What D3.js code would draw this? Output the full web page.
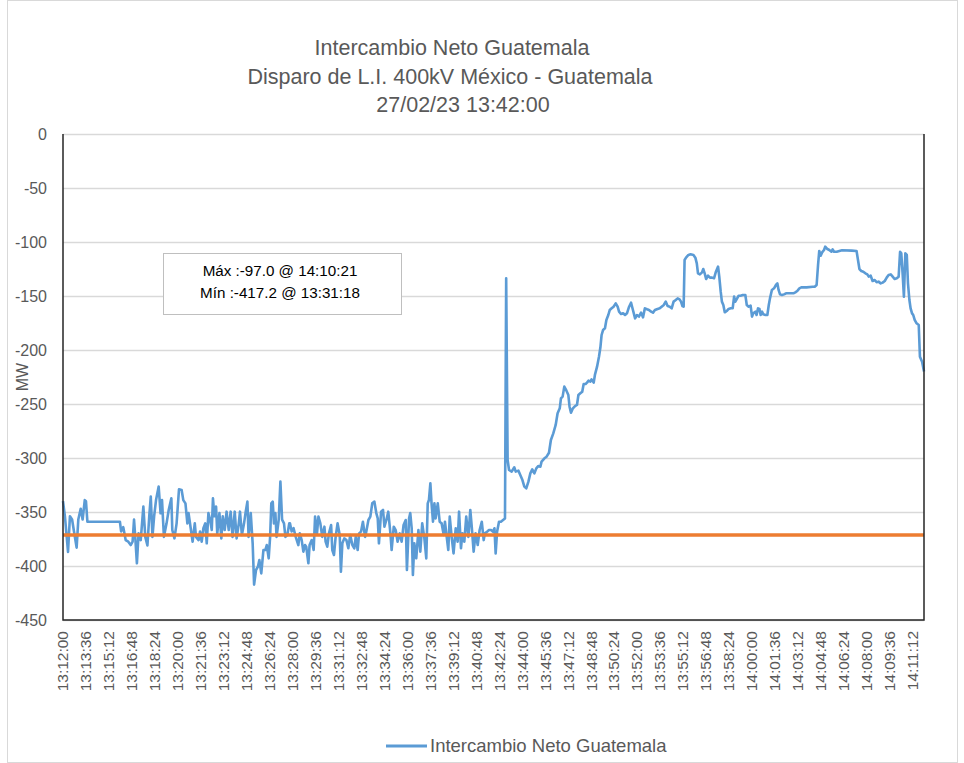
<!DOCTYPE html>
<style>
    body { margin: 0; background: #fff; }
    text { font-family: "Liberation Sans", Arial, sans-serif; }
</style>
<body>

<script src="https://d3js.org/d3.v7.min.js"></script>
<script>
    var inicio = "13:12:00";
    var segundos = [0, 8, 21, 29, 38, 46, 57, 64, 74, 82, 91, 96, 102, 238, 243, 252, 262, 273, 283, 291, 297, 302, 309, 316, 325, 336, 344, 353, 361, 367, 374, 381, 389, 400, 408, 414, 422, 433, 442, 453, 457, 466, 475, 485, 496, 503, 512, 520, 525, 534, 542, 551, 556, 567, 573, 580, 587, 595, 601, 608, 615, 622, 627, 633, 640, 645, 654, 662, 668, 676, 684, 693, 701, 709, 718, 726, 735, 740, 748, 757, 764, 771, 776, 785, 793, 799, 807, 815, 821, 829, 838, 846, 852, 860, 866, 871, 877, 882, 888, 893, 902, 909, 916, 924, 930, 938, 946,
        949, 956, 964, 973, 984, 990, 998, 1005, 1012, 1017, 1026, 1031, 1040, 1048, 1054, 1062, 1068, 1076, 1084, 1093, 1098, 1105, 1112, 1121, 1126, 1133, 1140, 1148, 1157, 1162, 1168, 1176, 1185, 1193, 1201, 1210, 1218, 1224, 1232, 1238, 1246, 1254, 1263, 1268, 1277, 1285, 1293, 1302, 1310, 1316, 1321, 1330, 1338, 1344, 1352, 1360, 1369, 1374, 1383, 1391, 1399, 1408, 1416, 1424, 1433, 1438, 1447, 1452, 1458, 1463, 1469, 1477, 1486, 1494, 1502, 1511, 1519, 1525, 1530, 1536, 1541, 1547, 1553, 1558, 1567, 1575, 1583, 1592, 1597, 1606, 1611, 1617, 1625, 1633, 1642, 1650, 1656, 1664, 1670, 1678, 1686, 1695, 1703, 1709, 1717, 1725, 1734, 1742, 1751, 1759, 1764, 1773, 1781, 1790, 1798, 1804, 1809, 1815, 1823, 1831, 1840, 1848,
        1853, 1859, 1865, 1876, 1887, 1893, 1904, 1912, 1921, 1929, 1937, 1946, 1954, 1962, 1971, 1979, 1987, 1996, 2001, 2013, 2022, 2032, 2040, 2050, 2060, 2068, 2077, 2082, 2089, 2096, 2105, 2113, 2118, 2124, 2132, 2141, 2149, 2155, 2163, 2171, 2177, 2185, 2191, 2197, 2205, 2210, 2219, 2224, 2233, 2241, 2247, 2252, 2258, 2266, 2272, 2280, 2286, 2294, 2302, 2311, 2319, 2325, 2333, 2342, 2350, 2358, 2367, 2375, 2383, 2392, 2400, 2408, 2417, 2425, 2433, 2442, 2450, 2459, 2467, 2475, 2486, 2495, 2503, 2512, 2520, 2528, 2537, 2545, 2553, 2562, 2570, 2578, 2584, 2590, 2595,
        2599, 2605, 2615, 2624, 2636, 2644, 2650, 2655, 2663, 2672, 2677, 2683, 2689, 2697, 2705, 2714, 2722, 2730, 2739, 2744, 2750, 2755, 2761, 2767, 2775, 2783, 2792, 2800, 2806, 2811, 2817, 2825, 2833, 2842, 2853, 2859, 2867, 2875, 2881, 2886, 2895, 2900, 2906, 2912, 2917, 2923, 2928, 2937, 2945, 2951, 2956, 2964, 2973, 2981, 2987, 2992, 2998, 3006, 3015, 3023, 3034, 3045, 3054, 3062, 3070, 3079, 3087, 3109, 3135, 3143, 3151, 3157, 3162, 3168, 3174, 3182, 3187, 3196, 3204, 3213, 3218, 3224, 3235, 3257, 3298, 3318, 3324, 3330, 3338, 3346, 3355, 3363, 3369, 3377, 3385, 3394, 3402, 3410, 3419, 3427, 3436, 3444, 3452, 3461, 3469, 3477, 3486, 3494, 3500, 3505, 3511, 3516, 3522, 3528, 3533, 3539, 3544, 3550, 3555, 3561, 3569, 3578, 3583, 3592, 3600];

    var intercambio = [-340, -354, -387, -354, -357, -368, -383, -357, -347, -357, -339, -340, -359, -359, -368, -364, -376, -377.5, -380.6, -377.5, -357, -372.8, -397.5, -369.8, -376, -345, -373, -381, -352.8, -335.8, -373, -354, -339, -326.5, -351.2, -339, -373, -360.5, -348.1, -337.3, -366.7, -374.4, -360.5, -329, -329.6, -339, -342, -360.5, -351, -365, -377.5, -360.5, -373, -376, -368, -377.5, -365, -360.5, -379, -351, -357, -366.7, -337.3, -354, -345, -369.8, -351, -374.4, -354, -366.7, -349.7, -366.7, -349.7, -373, -349.7, -374.4, -360.5, -349.7, -371.3, -360.5, -349.7, -340.4, -373, -351, -379, -417.2, -403.7, -400.6, -394.4, -406.8, -385.2, -385.2, -380.6, -392.9, -373, -342, -340.4, -360.5, -351, -373, -357, -321.9, -357, -360.5, -373, -371.3, -360.5,
        -360.5, -368, -365, -373, -380.6, -369.8, -376, -386.7, -380.6, -382.1, -397.5, -380.6, -376, -385.2, -354.3, -369.8, -354.3, -360.5, -373, -363.6, -377.5, -382.1, -369.8, -362, -385.2, -389.8, -373, -360.5, -371.3, -405.2, -379, -374.4, -376, -383.6, -371.3, -380.6, -383.6, -373, -385.2, -369.8, -368.2, -359, -373, -368.2, -357.4, -354.3, -342, -340.4, -351, -355.9, -379, -349.7, -348.1, -363.6, -357.4, -349.7, -369.8, -385.2, -363.6, -366.7, -377.5, -369.8, -377.5, -362, -357.4, -403.7, -355.9, -351, -365.1, -408.3, -379, -392.9, -366.7, -386.7, -360.5, -374.4, -392.9, -342, -338.9, -323.5, -342, -359, -342, -355.9, -342, -359, -360.5, -371.3, -359, -376, -385.2, -354.3, -373, -388.3, -365.1, -377.5, -349.7, -383.6, -369.8, -377.5, -354.3, -373, -348.1, -363.6, -386.7, -369.8, -380.6, -366.7, -359, -376, -369.8, -368.2, -366.7, -366.7, -368.2, -365.1, -388.3, -368.2, -359, -359, -357.4, -356,
        -133.6, -301.9, -311.1, -312.6, -308.6, -312.6, -311.7, -315.7, -320.4, -326.5, -328.1, -321.9, -314.2, -310.5, -314.2, -309.6, -307.4, -308, -303.4, -300.3, -298.8, -295.1, -283.3, -277.2, -269.4, -258.6, -254, -244.8, -243.2, -233.9, -237.7, -241.7, -252.5, -258, -254, -251.9, -250.9, -241.7, -240.1, -238.6, -231.5, -231.5, -230.2, -228.4, -229.3, -227.2, -230.2, -223.1, -215.4, -206.2, -197.5, -186.1, -181.5, -179.9, -172.2, -167.6, -163, -161.4, -159.9, -156.8, -159.9, -164.5, -166.7, -166, -167.6, -166, -159.9, -156.2, -163, -170.7, -167.6, -169.1, -165.4, -169.8, -161.4, -162.3, -163, -164.5, -165.4, -163, -162, -161.4, -159.9, -158.3, -155.2, -159.3, -159.9, -161.4, -155.2, -153.7, -152.2, -153.1, -155.2, -159.3, -159.9,
        -116.7, -114.5, -112, -111.4, -112, -114.5, -119.8, -129, -130, -128.1, -125, -129, -134.3, -131.2, -133, -133, -133.6, -127.5, -122.8, -132.1, -146, -155.2, -158.3, -165.1, -163.9, -162, -161.4, -161.4, -150.6, -155.2, -152.8, -149.7, -149.7, -149.1, -149.1, -158.3, -159.9, -158.9, -169.1, -166.1, -164.5, -167.6, -161.4, -162, -167.6, -164.5, -167, -167.6, -167.6, -158.3, -152.2, -144.4, -142.9, -139.8, -138.3, -144.4, -148.5, -149.1, -148.5, -147.5, -147.5, -147.5, -147.5, -146.6, -145.4, -142.9, -142, -142, -141.4, -141.4, -139.8, -121.3, -108.3, -112.7, -109.6, -107.4, -104.3, -106.5, -107.4, -109, -106.8, -109, -109, -107.7, -108, -108.3, -116.7, -125, -126.9, -127.5, -129, -130, -132.1, -131.2, -136.1, -135.2, -137.3, -136.7, -138.3, -137.6, -136.1, -133, -130.6, -130, -132.1, -134.3, -133.6, -132.1, -109, -110.5, -130.6, -150.6, -110.5, -112, -138.3, -153.7, -161.4, -166.1, -167.6, -172.2, -175.3, -176.8, -206.2, -210.8, -220];

    var referencia = -371.3;   // linea naranja
    var fin = "14:12:00";

    var etiquetasX = ["13:12:00", "13:13:36", "13:15:12", "13:16:48", "13:18:24", "13:20:00", "13:21:36", "13:23:12", "13:24:48", "13:26:24", "13:28:00", "13:29:36", "13:31:12", "13:32:48", "13:34:24", "13:36:00", "13:37:36", "13:39:12", "13:40:48", "13:42:24", "13:44:00", "13:45:36", "13:47:12", "13:48:48", "13:50:24", "13:52:00", "13:53:36", "13:55:12", "13:56:48", "13:58:24", "14:00:00", "14:01:36", "14:03:12", "14:04:48", "14:06:24", "14:08:00", "14:09:36", "14:11:12"];
    var ticksY = [0, -50, -100, -150, -200, -250, -300, -350, -400, -450];

    var titulo = ["Intercambio Neto Guatemala", "Disparo de L.I. 400kV México - Guatemala", "27/02/23 13:42:00"];
    var nota = ["Máx :-97.0 @ 14:10:21", "Mín :-417.2 @ 13:31:18"];

    var width = 964,
        height = 763;

    var svg = d3.select("body").append("svg")
        .attr("width", width)
        .attr("height", height);

    var margin = {top: 134, right: 40, bottom: 143, left: 63};
    var w = width - margin.left - margin.right,
        h = height - margin.top - margin.bottom;

    var parse = d3.timeParse("%H:%M:%S");
    var t0 = parse(inicio);

    var data = segundos.map(function(s, i) {
        return {t: d3.timeSecond.offset(t0, s), v: intercambio[i]};
    });

    var x = d3.scaleTime()
        .domain([t0, parse(fin)])
        .range([0, w]);

    var y = d3.scaleLinear()
        .domain([-450, 0])
        .range([h, 0]);

    // marco exterior
    svg.append("rect")
        .attr("x", 7.5).attr("y", 0.5)
        .attr("width", 950).attr("height", 762)
        .attr("fill", "none")
        .attr("stroke", "#d9d9d9");

    // titulo
    var tituloX = [452, 450, 463];
    svg.append("g")
        .attr("text-anchor", "middle")
        .attr("fill", "#595959")
        .attr("font-size", 21.5)
        .selectAll("text")
        .data(titulo)
        .enter().append("text")
        .attr("x", function(d, i) { return tituloX[i]; })
        .attr("y", function(d, i) { return 55 + i * 28.5; })
        .text(function(d) { return d; });

    var g = svg.append("g").attr("transform", "translate(" + margin.left + "," + margin.top + ")");

    // grilla
    g.append("g")
        .selectAll("line")
        .data(ticksY)
        .enter().append("line")
        .attr("x1", 0).attr("x2", w)
        .attr("y1", function(d) { return y(d) + 0.5; })
        .attr("y2", function(d) { return y(d) + 0.5; })
        .attr("stroke", "#d9d9d9")
        .attr("stroke-width", 1.3);

    // eje y
    g.append("g")
        .attr("font-size", 16)
        .attr("fill", "#595959")
        .attr("text-anchor", "end")
        .selectAll("text")
        .data(ticksY)
        .enter().append("text")
        .attr("x", -16)
        .attr("y", function(d) { return y(d); })
        .attr("dy", "0.35em")
        .text(function(d) { return d; });

    // eje x
    g.append("g")
        .attr("font-size", 15.5)
        .attr("fill", "#595959")
        .attr("text-anchor", "end")
        .selectAll("text")
        .data(etiquetasX)
        .enter().append("text")
        .attr("transform", function(d) {
            return "translate(" + x(parse(d)) + "," + (h + 11) + ") rotate(-90)";
        })
        .attr("dy", "0.35em")
        .text(function(d) { return d; });

    svg.append("text")
        .attr("transform", "translate(22," + (margin.top + y(-225)) + ") rotate(-90)")
        .attr("text-anchor", "middle")
        .attr("dy", "0.35em")
        .attr("font-size", 16)
        .attr("fill", "#595959")
        .text("MW");

    // cuadro de maximo / minimo
    var caja = svg.append("g");
    caja.append("rect")
        .attr("x", 163.5).attr("y", 253.5)
        .attr("width", 238).attr("height", 61)
        .attr("fill", "#fff")
        .attr("stroke", "#bfbfbf");
    caja.selectAll("text")
        .data(nota)
        .enter().append("text")
        .attr("x", 280)
        .attr("y", function(d, i) { return 276 + i * 22; })
        .attr("text-anchor", "middle")
        .attr("font-size", 15.2)
        .attr("fill", "#000")
        .text(function(d) { return d; });

    // serie
    var line = d3.line()
        .x(function(d) { return x(d.t); })
        .y(function(d) { return y(d.v); });

    g.append("path")
        .datum(data)
        .attr("fill", "none")
        .attr("stroke", "#5b9bd5")
        .attr("stroke-width", 2.6)
        .attr("stroke-linejoin", "round")
        .attr("d", line);

    g.append("line")
        .attr("x1", 0).attr("x2", w)
        .attr("y1", y(referencia)).attr("y2", y(referencia))
        .attr("stroke", "#ed7d31")
        .attr("stroke-width", 3.5);

    // bordes del area
    g.append("path")
        .attr("d", "M0,0V" + h + "H" + w + "V0")
        .attr("fill", "none")
        .attr("stroke", "#262626")
        .attr("stroke-width", 1.5);

    // leyenda
    var ley = svg.append("g").attr("transform", "translate(386,746)");
    ley.append("line")
        .attr("x1", 0).attr("x2", 41)
        .attr("stroke", "#5b9bd5")
        .attr("stroke-width", 3);
    ley.append("text")
        .attr("x", 44)
        .attr("dy", "0.35em")
        .attr("font-size", 18.5)
        .attr("fill", "#595959")
        .text("Intercambio Neto Guatemala");
</script>
</body>
